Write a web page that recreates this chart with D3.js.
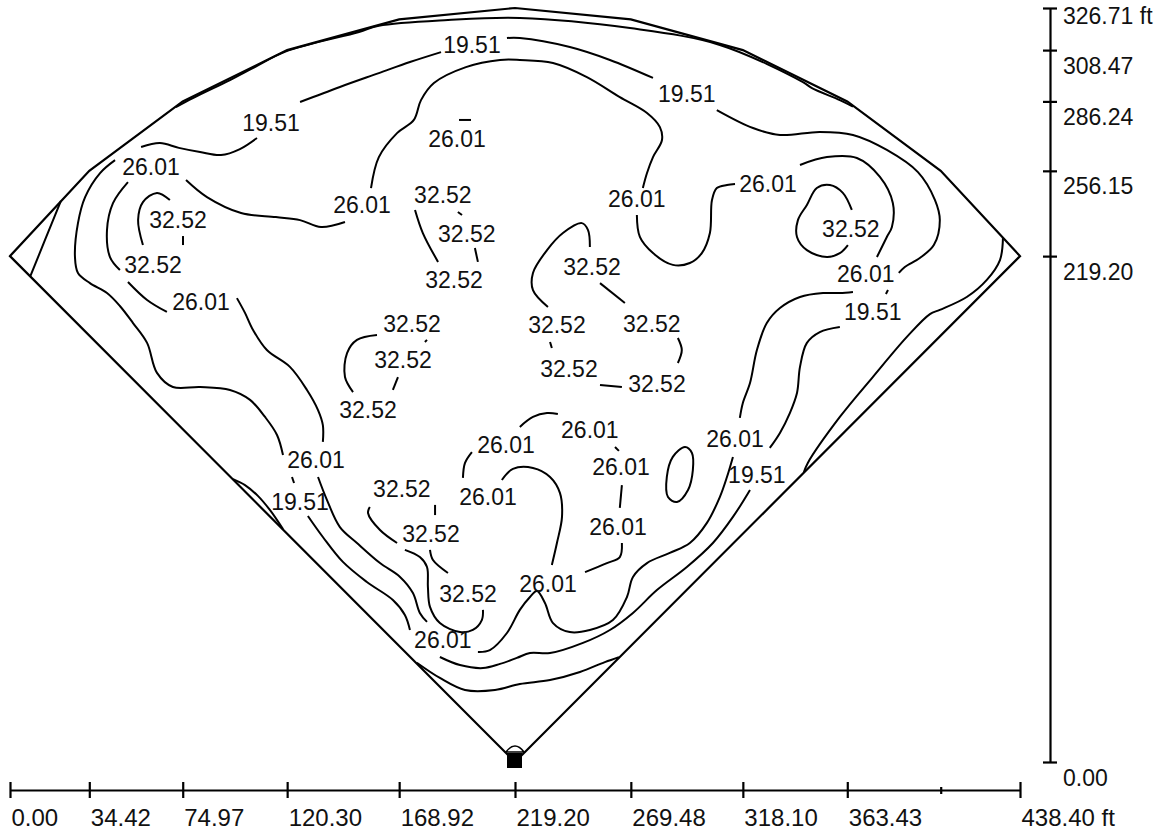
<!DOCTYPE html>
<html><head><meta charset="utf-8">
<script src="https://cdn.jsdelivr.net/npm/d3@7"></script>
<style>
body{margin:0;background:#fff}
svg{display:block}
text{font-family:"Liberation Sans",Arial,sans-serif;fill:#111}
</style>
</head><body>
<svg id="c" width="1168" height="834"></svg>
<script>
// ---- axis ticks (ft) ----
const xTicks = [0, 34.42, 74.97, 120.30, 168.92, 219.20, 269.48, 318.10, 363.43, 403.98, 438.40];
const xTickLabels = ["0.00","34.42","74.97","120.30","168.92","219.20","269.48","318.10","363.43","","438.40 ft"];
const yTicks = [0, 219.20, 256.15, 286.24, 308.47, 326.71];
const yTickLabels = ["0.00","219.20","256.15","286.24","308.47","326.71 ft"];

// ---- field outline (ft) ----
const fenceX = [0, 34.42, 74.97, 120.30, 168.92, 219.20, 269.48, 318.10, 363.43, 403.98, 438.40];
const fenceY = [219.20, 256.15, 286.24, 308.47, 321.8, 326.71, 321.8, 308.47, 286.24, 256.15, 219.20];
const home = [219.20, 0];

// ---- isolines (ft), grouped by level ----
const contour1951 = [
 [[8.7,210.2],[15.2,226.2],[22.1,243.1]],
 [[72.0,283.8],[79.4,287.7],[95.5,295.5],[106.3,301.1],[119.8,307.9],[151.5,316.3],[160.1,319.0],[190.1,321.5],[221.3,322.4],[269.1,318.0],[308.1,310.7],[344.2,294.6],[348.1,292.0],[360.2,286.8],[365.9,284.0]],
 [[56.9,266.5],[65.1,268.2],[73.3,266.1],[82.5,264.3],[91.6,263.0],[99.8,265.6],[107.2,270.4]],
 [[125.9,286.0],[143.2,292.5],[160.1,298.5],[173.6,303.3],[187.1,307.6]],
 [[215.7,313.7],[221.3,313.7],[243.0,309.8],[260.4,304.2],[279.1,296.4]],
 [[306.8,282.5],[322.5,274.7],[334.2,271.7],[351.5,273.0],[365.9,271.7],[380.6,265.2],[394.1,255.6],[401.5,243.5],[403.6,234.8],[401.0,224.0],[394.9,218.4],[388.4,214.5],[385.8,211.9]],
 [[381.1,204.5],[380.2,202.8]],
 [[360.2,188.5],[351.5,186.3],[345.9,181.6],[342.9,171.2],[341.6,159.9],[338.5,151.2],[334.2,142.6],[329.8,136.1]],
 [[321.2,117.9],[313.8,106.2],[305.1,94.9],[293.8,84.5],[280.8,74.5],[270.4,64.6],[260.4,57.2],[248.7,51.6],[234.4,47.2],[225.7,47.2],[220.0,45.1],[212.7,42.5],[205.3,40.7],[195.3,42.0],[186.6,45.5]],
 [[431.0,227.0],[429.7,217.5],[424.0,208.9],[415.3,201.5],[403.6,195.9],[399.3,194.1],[389.3,184.2],[374.5,166.8],[360.2,149.5],[346.3,129.6],[344.6,125.6]],
 [[176.6,43.0],[186.6,36.4],[197.5,31.2],[210.5,31.2],[221.3,33.8],[234.4,35.5],[247.4,39.0],[258.2,43.3],[264.3,45.4]],
 [[96.8,122.6],[102.0,120.0],[107.6,115.3],[112.8,109.2],[118.5,100.9]],
 [[45.6,260.8],[39.1,255.2],[32.6,244.8],[29.5,233.5],[28.2,218.8],[29.5,211.9],[34.7,207.5],[42.1,203.2],[47.7,197.6],[53.4,190.2],[59.5,181.6],[63.8,168.6],[70.7,162.5],[82.5,162.5],[95.5,161.2],[104.2,156.9],[110.7,149.5],[115.9,141.7],[118.5,133.0]],
 [[122.4,123.5],[123.3,120.9]],
 [[129.3,106.6],[135.8,97.5],[144.5,86.7],[154.9,78.0],[166.2,70.2],[171.4,63.7],[173.6,57.2]]
];
const contour2601 = [
 [[51.2,251.3],[44.7,242.2],[42.1,230.5],[43.4,218.8],[47.7,213.2]],
 [[51.2,208.0],[59.5,200.2],[68.1,195.0]],
 [[98.5,201.0],[102.0,194.6],[105.5,187.2],[111.5,178.5],[121.5,171.2],[128.9,161.2],[133.7,152.5],[135.8,146.0],[135.8,138.7]],
 [[133.7,123.5],[137.6,113.5],[143.2,101.8],[150.6,94.9],[160.6,86.2],[169.3,80.2],[174.9,73.2],[177.9,64.6],[181.0,60.7]],
 [[203.1,47.7],[208.3,48.5],[215.7,55.9],[221.3,65.9],[225.7,71.5],[228.7,74.1],[232.2,68.9],[235.7,60.2],[243.0,56.3],[251.7,57.2],[261.7,61.5],[267.8,71.5],[270.4,80.2],[276.5,86.2],[286.4,90.6],[295.1,94.9],[302.5,103.6],[308.1,114.8],[311.2,123.5],[313.8,132.2]],
 [[316.8,149.1],[318.1,155.6],[321.2,164.2],[324.2,178.5],[328.5,190.2],[334.2,196.7],[342.9,201.5],[352.9,203.2],[360.2,203.2],[365.9,203.7]],
 [[342.9,258.7],[354.6,262.1],[367.6,261.7],[377.6,253.5],[383.2,242.2],[382.8,231.8],[380.6,227.5],[376.3,218.8]],
 [[272.1,237.0],[273.4,227.5],[279.1,220.5],[287.7,215.4],[295.1,216.2],[300.3,220.5],[303.8,229.2],[304.7,243.5],[306.8,248.7],[311.2,250.0],[314.7,250.4]],
 [[156.7,248.7],[160.1,262.1],[168.0,272.5],[175.3,278.2],[178.4,286.8],[184.0,294.2],[197.9,301.1],[212.7,304.2],[221.3,304.2],[235.7,302.9],[250.4,296.8],[264.7,288.1],[276.5,281.2],[282.1,275.1],[283.0,269.5],[279.1,262.1],[276.5,255.2],[274.7,248.7]],
 [[76.4,252.2],[85.5,244.8],[100.3,237.9],[115.4,236.1],[125.9,234.8],[135.0,231.8],[145.4,234.0]],
 [[194.9,278.2],[200.1,278.2]],
 [[221.3,145.2],[227.0,149.5],[233.1,151.2],[237.8,150.8]],
 [[262.6,136.5],[264.3,134.8]],
 [[265.6,120.0],[264.7,110.1]],
 [[265.6,94.9],[264.7,88.8],[259.1,86.2],[249.6,82.3]],
 [[213.5,122.2],[218.3,127.0],[227.0,127.4],[234.4,123.5],[238.7,116.6],[239.6,106.2],[237.4,94.9],[235.2,85.4]],
 [[196.6,123.1],[197.5,129.6],[200.5,134.3]]
];
const closed2601 = [
 [[293.0,136.5],[296.0,133.9],[296.4,126.5],[294.3,117.9],[289.5,112.7],[285.6,114.8],[285.1,123.5],[287.7,132.2]]
];
const contour3252 = [
 [[57.7,224.0],[55.6,234.8],[57.7,242.6],[63.8,246.6],[69.4,243.5]],
 [[75.1,227.9],[75.1,224.0]],
 [[175.8,239.2],[179.2,229.2],[185.8,216.7]],
 [[194.4,238.3],[196.2,237.0]],
 [[201.8,222.7],[203.1,216.7]],
 [[251.7,223.1],[250.9,230.5],[248.2,233.5],[240.0,229.2],[233.1,221.8],[227.0,211.9],[227.0,204.5],[233.5,197.2]],
 [[256.1,207.5],[266.9,198.9]],
 [[289.9,183.7],[291.6,178.5],[289.9,172.9]],
 [[234.4,182.0],[235.2,179.4]],
 [[256.1,163.4],[265.6,162.5]],
 [[159.3,185.0],[150.6,182.9],[146.3,177.2],[145.4,166.8],[148.9,160.3]],
 [[181.0,182.9],[180.1,182.0]],
 [[168.4,166.8],[166.2,161.2]],
 [[156.2,110.5],[155.4,107.9],[160.6,100.5],[168.0,94.9]],
 [[184.5,111.4],[184.5,107.0]],
 [[171.4,91.9],[177.9,88.8],[181.0,84.5],[181.4,75.8],[182.3,67.2],[186.6,60.2],[195.3,56.3],[200.9,57.2],[204.8,61.5],[205.3,65.9]],
 [[182.3,91.9],[183.6,87.5],[190.1,81.9]],
 [[365.4,239.2],[361.5,246.6],[355.9,250.0],[350.2,248.7],[345.9,241.4],[342.0,234.8],[341.6,227.5],[345.9,221.8],[354.6,218.8],[360.2,220.5],[363.7,224.0]]
];

// ---- isoline labels (text, x ft, y ft) ----
const labelText = ["19.51","19.51","19.51","26.01","26.01","26.01","32.52","32.52","32.52","26.01","26.01","32.52","26.01","19.51","32.52","32.52","32.52","32.52","32.52","32.52","32.52","32.52","26.01","32.52","32.52","26.01","19.51","26.01","26.01","26.01","26.01","26.01","26.01","32.52","32.52","32.52","26.01","26.01","19.51"];
const labelX = [200.5,113.3,293.8,194.0,61.2,152.8,187.9,198.3,192.7,272.1,329.0,365.0,371.5,374.5,252.6,237.4,278.6,242.6,280.8,174.5,170.6,155.4,82.9,62.1,72.9,132.8,125.9,251.7,215.3,265.2,207.5,263.9,233.5,170.1,182.7,198.8,187.9,314.7,324.2];
const labelY = [307.2,273.4,286.0,266.5,254.3,237.9,242.2,225.3,205.4,240.5,247.0,227.5,208.0,191.5,211.0,185.9,186.3,166.8,160.3,186.3,170.7,149.1,195.9,211.9,231.4,127.4,109.2,140.4,133.9,124.4,111.4,98.4,73.7,114.8,95.3,69.3,49.4,136.5,120.9];

// ---- drawing ----
const svg = d3.select("#c");
const x = d3.scaleLinear().domain([0, 438.40]).range([10, 1020]);
const y = d3.scaleLinear().domain([0, 326.71]).range([762, 8]);

const lin = d3.line().x(d => x(d[0])).y(d => y(d[1]));
const smooth = d3.line().x(d => x(d[0])).y(d => y(d[1])).curve(d3.curveCatmullRom.alpha(0.5));
const smoothClosed = d3.line().x(d => x(d[0])).y(d => y(d[1])).curve(d3.curveCatmullRomClosed.alpha(0.5));

// field outline: fence polygon + foul lines to home
const outline = fenceX.map((v, i) => [v, fenceY[i]]);
outline.push(home);
svg.append("path").attr("d", lin(outline) + "Z")
  .attr("fill", "none").attr("stroke", "#000").attr("stroke-width", 2.2).attr("stroke-linejoin", "miter");

// contours
const cg = svg.append("g").attr("fill", "none").attr("stroke", "#000").attr("stroke-width", 2).attr("stroke-linecap", "butt");
[contour1951, contour2601, contour3252].forEach((set, k) => {
  cg.selectAll(null).data(set).enter().append("path")
    .attr("class", "iso lvl" + k).attr("d", smooth);
});
cg.selectAll(null).data(closed2601).enter().append("path").attr("d", smoothClosed);

// home plate
const hx = x(home[0]), hy = y(home[1]);
svg.append("path")
  .attr("d", `M${hx-9},${hy-10} Q${hx},${hy-22} ${hx+9},${hy-10} Z`)
  .attr("fill", "#fff").attr("stroke", "#000").attr("stroke-width", 1.5);
svg.append("rect").attr("x", hx - 8).attr("y", hy - 9).attr("width", 15).attr("height", 15).attr("fill", "#000");

// labels
svg.append("g").selectAll("text").data(labelText).enter().append("text")
  .attr("x", (d, i) => x(labelX[i])).attr("y", (d, i) => y(labelY[i]))
  .attr("text-anchor", "middle").attr("font-size", 23).text(d => d);

// bottom axis
const gx = svg.append("g").attr("transform", "translate(0,790)")
  .call(d3.axisBottom(x).tickValues(xTicks).tickFormat((d, i) => xTickLabels[i]).tickSizeOuter(0));
gx.select(".domain").attr("stroke", "#000").attr("stroke-width", 2.2);
gx.selectAll(".tick line").attr("stroke", "#000").attr("stroke-width", 2.2)
  .attr("y1", (d, i) => xTickLabels[i] === "" ? -3 : -8).attr("y2", (d, i) => xTickLabels[i] === "" ? 4 : 8);
gx.selectAll(".tick text").attr("text-anchor", "start").attr("x", 1).attr("y", 36).attr("dy", null)
  .attr("font-size", 24).attr("font-family", null).attr("fill", "#111");
gx.attr("font-size", null).attr("font-family", null);

// right axis
const gy = svg.append("g").attr("transform", "translate(1050,0)")
  .call(d3.axisRight(y).tickValues(yTicks).tickFormat((d, i) => yTickLabels[i]).tickSizeOuter(0));
gy.select(".domain").attr("stroke", "#000").attr("stroke-width", 2.2);
gy.selectAll(".tick line").attr("stroke", "#000").attr("stroke-width", 2.2).attr("x1", -7).attr("x2", 7);
gy.selectAll(".tick text").attr("text-anchor", "start").attr("x", 13)
  .attr("y", (d, i) => i === yTicks.length - 1 ? 15 : 23).attr("dy", null)
  .attr("font-size", 23).attr("font-family", null).attr("fill", "#111");
gy.attr("font-size", null).attr("font-family", null);
</script>
</body></html>
